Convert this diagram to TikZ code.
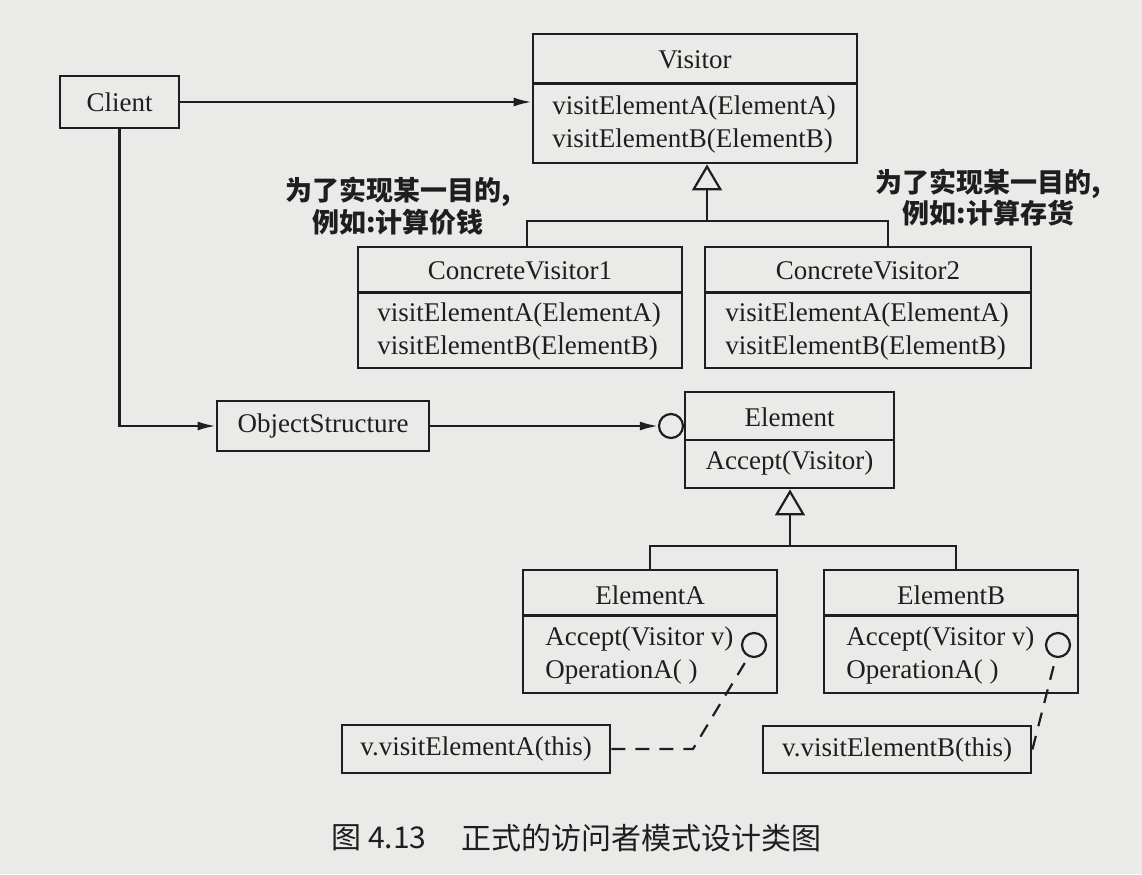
\documentclass[tikz,border=0pt]{standalone}
\usepackage{fontspec}
\setmainfont{Liberation Serif}
\newfontfamily\cjk{Noto Sans CJK SC}
\usetikzlibrary{arrows.meta}
\definecolor{paper}{RGB}{234,234,232}
\definecolor{ink}{RGB}{30,30,30}

\begin{document}
\begin{tikzpicture}
[x=0.5pt,y=-0.5pt,
 every node/.style={text=ink},
 cls/.style={draw=ink,line width=1.4pt,inner sep=0pt},
 rule/.style={draw=ink,line width=1.4pt},
 lbl/.style={inner sep=0pt,font=\fontsize{13.5}{16}\selectfont},
 ops/.style={inner sep=0pt,align=left,anchor=west,font=\fontsize{13.5}{16.5}\selectfont},
 wire/.style={draw=ink,line width=1.1pt},
 arr/.style={wire,-{Latex[length=9pt,width=4.5pt]}},
 gen/.style={wire,-{Triangle[open,length=13pt,width=15pt]}},
 port/.style={circle,draw=ink,line width=1.1pt,minimum size=12pt,inner sep=0pt},
 call/.style={wire,dash pattern=on 7pt off 5pt},
 note/.style={inner sep=0pt,align=center,font=\cjk\bfseries\fontsize{13.5}{14}\selectfont},
 capt/.style={inner sep=0pt,anchor=west,font=\cjk\fontsize{15}{18}\selectfont}]
\fill[paper] (0,0) rectangle (1142,874);
\useasboundingbox (0,0) rectangle (1142,874);

% client and visitors
\node[cls,lbl,minimum width=59.5pt,minimum height=26pt] (client) at (119.5,102) {Client};
\node[cls,minimum width=162pt,minimum height=64.5pt] (visitor) at (695,98.5) {};
\node[lbl] (visitorname) at (695,60) {Visitor};
\node[ops] (visitorops) at (552,124) {visitElementA(ElementA)\\visitElementB(ElementB)};
\draw[rule] (visitor.north west) ++(0,51) -- ++(324,0);

\node[cls,minimum width=162pt,minimum height=60.5pt] (cv1) at (520,307.5) {};
\node[lbl] (cv1name) at (520,271) {ConcreteVisitor1};
\node[ops] (cv1ops) at (377,331) {visitElementA(ElementA)\\visitElementB(ElementB)};
\draw[rule] (cv1.north west) ++(0,47) -- ++(324,0);

\node[cls,minimum width=163pt,minimum height=60.5pt] (cv2) at (868,307.5) {};
\node[lbl] (cv2name) at (868,271) {ConcreteVisitor2};
\node[ops] (cv2ops) at (725,331) {visitElementA(ElementA)\\visitElementB(ElementB)};
\draw[rule] (cv2.north west) ++(0,47) -- ++(326,0);

\node[note] (notecost) at (398,206) {为了实现某一目的,\\例如:计算价钱};
\node[note] (notestock) at (988.5,197.5) {为了实现某一目的,\\例如:计算存货};

% object structure and elements
\node[cls,lbl,minimum width=106pt,minimum height=25pt] (objstruct) at (323,426) {ObjectStructure};
\node[cls,minimum width=104.5pt,minimum height=48pt] (element) at (789.5,440) {};
\node[lbl] (elementname) at (789.5,417) {Element};
\node[lbl] (elementops) at (789.5,463) {Accept(Visitor)};
\draw[rule] (element.west) -- (element.east);
\node[port] (elemport) at (671,426) {};

\node[cls,minimum width=127pt,minimum height=61.5pt] (elema) at (650,631.5) {};
\node[lbl] (elemaname) at (650,595) {ElementA};
\node[ops] (elemaops) at (545,655) {Accept(Visitor v)\\OperationA( )};
\draw[rule] (elema.north west) ++(0,47) -- ++(254,0);
\node[port] (porta) at (754,645) {};

\node[cls,minimum width=127pt,minimum height=61.5pt] (elemb) at (951,631.5) {};
\node[lbl] (elembname) at (951,595) {ElementB};
\node[ops] (elembops) at (846,655) {Accept(Visitor v)\\OperationA( )};
\draw[rule] (elemb.north west) ++(0,47) -- ++(254,0);
\node[port] (portb) at (1058,645) {};

\node[cls,lbl,minimum width=134pt,minimum height=24pt] (vcalla) at (476,749) {v.visitElementA(this)};
\node[cls,lbl,minimum width=134pt,minimum height=23.5pt] (vcallb) at (897,749.5) {v.visitElementB(this)};

% connectors
\draw[arr] (client.east) -- (client.east -| visitor.west);
\draw[arr] (client.south) |- (objstruct.west);
\draw[arr] (objstruct.east) -- (elemport.west);
\coordinate (vjoin) at (707,221);
\draw[gen] (vjoin) -- (vjoin |- visitor.south);
\draw[wire] ([xshift=3.5pt]cv1.north) |- (vjoin) -| ([xshift=10pt]cv2.north);
\coordinate (ejoin) at (790,546);
\draw[gen] (ejoin) -- (ejoin |- element.south);
\draw[wire] (elema.north) |- (ejoin) -| ([xshift=2.5pt]elemb.north);
\coordinate (callbend) at (693,749);
\draw[call] (vcalla.east) -- (callbend) -- (porta.245);
\draw[call] (vcallb.east) -- (portb.260);

% caption
\node[capt] (capnum) at (331,838) {图 4.13};
\node[capt] (captitle) at (461,838) {正式的访问者模式设计类图};
\end{tikzpicture}
\end{document}
